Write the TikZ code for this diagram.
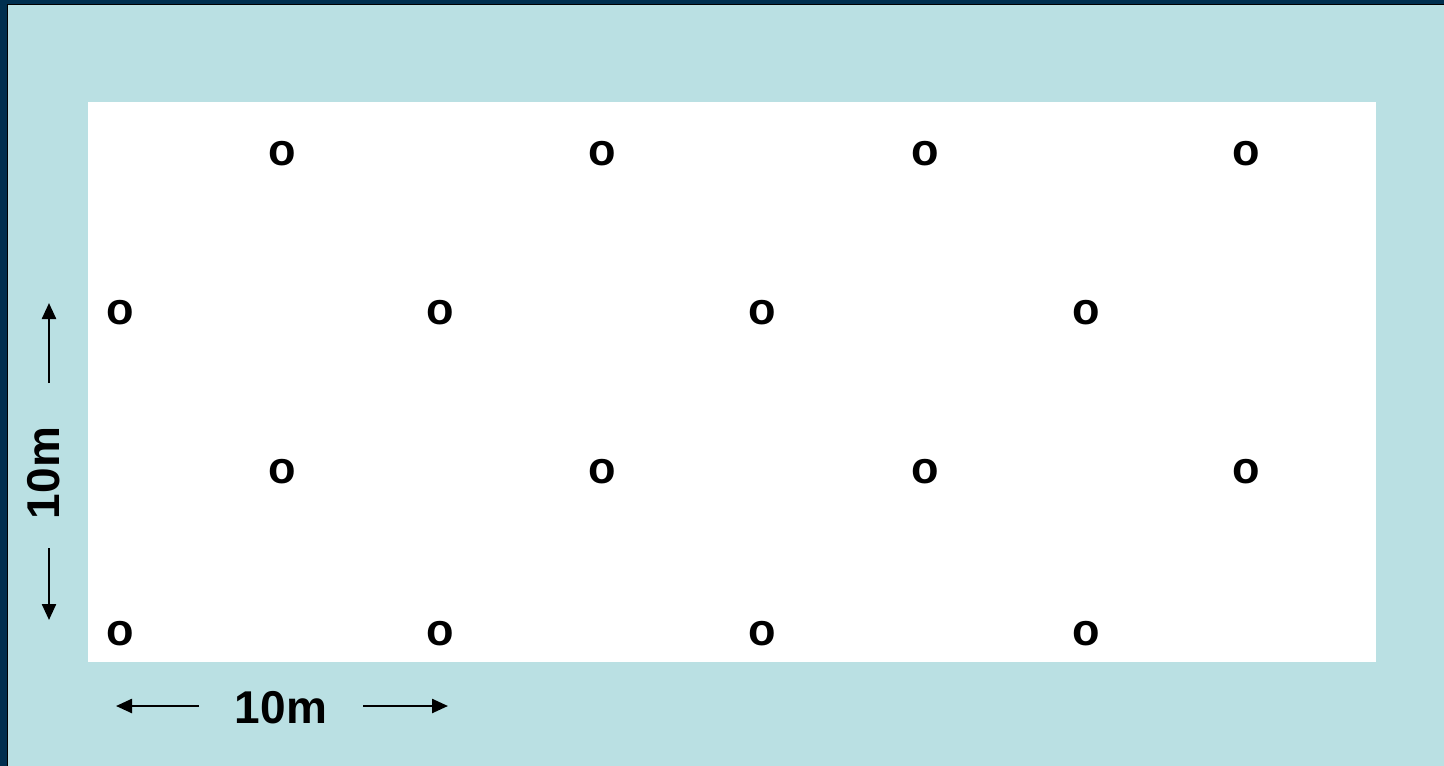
\documentclass[tikz,border=0pt]{standalone}
\usepackage{fontspec}
\setmainfont{Liberation Sans}
\usetikzlibrary{arrows.meta}
\definecolor{navy}{RGB}{0,47,79}
\definecolor{paleteal}{RGB}{186,224,227}
\tikzset{
  pt/.style={font=\fontsize{45}{47}\selectfont\bfseries, inner sep=0pt},
  lbl/.style={font=\fontsize{46}{48}\selectfont\bfseries, inner sep=0pt},
  dimarrow/.style={line width=2.4pt, -{Triangle[length=16pt,width=14pt]}}
}
\begin{document}
\begin{tikzpicture}[x=1pt,y=-1pt]
\useasboundingbox (0,0) rectangle (1444,766);
\fill[navy] (0,0) rectangle (1444,766);
\fill[paleteal] (7,4) rectangle (1444,766);
\draw[black, line width=1.5pt] (7.5,766) -- (7.5,4.7) -- (1444,4.7);
\fill[white] (88,102) rectangle (1376,662);
% grid of points
\foreach \x/\n in {282/1,602/2,925/3,1246/4} {
  \node[pt] (a\n) at (\x,154) {o};
  \node[pt] (c\n) at (\x,472) {o};
}
\foreach \x/\n in {120/1,440/2,762/3,1086/4} {
  \node[pt] (b\n) at (\x,313) {o};
  \node[pt] (d\n) at (\x,634) {o};
}
% horizontal dimension
\node[lbl] (hl) at (281,708) {10m};
\coordinate (hls) at (199,706);
\coordinate (hle) at (116,706);
\coordinate (hrs) at (363,706);
\coordinate (hre) at (448,706);
\draw[dimarrow] (hls) -- (hle);
\draw[dimarrow] (hrs) -- (hre);
% vertical dimension
\node[lbl, rotate=90] (vl) at (44,473) {10m};
\coordinate (vts) at (49,383);
\coordinate (vte) at (49,303);
\coordinate (vbs) at (49,548);
\coordinate (vbe) at (49,620);
\draw[dimarrow] (vts) -- (vte);
\draw[dimarrow] (vbs) -- (vbe);
\end{tikzpicture}
\end{document}
